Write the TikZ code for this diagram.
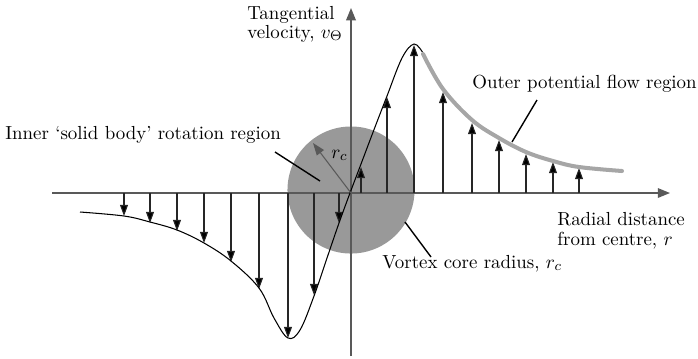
\documentclass[tikz,border=0pt]{standalone}
\usetikzlibrary{arrows.meta}
\begin{document}
\begin{tikzpicture}[x=0.5714pt,y=-0.5714pt,
  axisline/.style={draw=black!65, line width=0.8pt, -{Triangle[length=7pt,width=5.5pt]}},
  vel/.style={draw=black!85, line width=0.6pt, -{Triangle[length=6.3pt,width=4.5pt,fill=black]}},
  pointer/.style={draw=black, line width=0.8pt},
  lbl/.style={inner sep=0pt, anchor=base west, font=\fontsize{10.8}{13}\selectfont},
  corefill/.style={circle, fill=black!40, inner sep=0pt, minimum size=72.6pt}
]
\useasboundingbox (0,0) rectangle (698,358);
% core circle
\node[corefill] (core) at (351,190) {};
% axes
\coordinate (xs) at (52,193);
\coordinate (xe) at (670,193);
\coordinate (ys) at (351,356);
\coordinate (ye) at (351,8);
\draw[axisline] (xs) -- (xe);
\draw[axisline] (ys) -- (ye);
\coordinate (O) at (351,193);
% velocity arrows
\foreach \i/\x/\y in {a/124/216, b/150/223, c/177/231, d/204/243, e/231/262, f/259/289, g/288/338, h/314/295, k/339/223,
                      l/361/167, m/387/97, n/414/45, p/443/92, q/472/123, r/499/140, s/526/154, t/553/162, u/579/168} {
  \coordinate (b\i) at (\x,193);
  \coordinate (t\i) at (\x,\y);
  \draw[vel] (b\i) -- (t\i);
}
% black curve
\draw[black, line width=0.6pt] plot[smooth, tension=0.6] coordinates {
  (80,212) (124,216) (150,222) (177,230) (204,243) (231,261) (259,288) (274,318) (288,338) (300,330) (314,296) (327,258) (339,223) (350,193) (361,164) (375,127) (387,96) (402,58) (414,44) (423,53)};
% grey outer curve
\draw[black!35, line width=2.3pt, line cap=round] plot[smooth, tension=0.6] coordinates {
  (423,54) (443,89) (472,120) (499,138) (526,152) (553,161) (579,167) (622,171)};
% r_c radius arrow
\coordinate (rc) at (313,143);
\draw[draw=black!65, line width=0.6pt, -{Triangle[length=7pt,width=5pt]}] (O) -- (rc);
\node[lbl] (rclab) at (331,158) {$r_c$};
% labels and pointers
\node[lbl] (tang) at (247,19) {Tangential};
\node[lbl] (tang2) at (247,38) {velocity, $v_\Theta$};
\node[lbl] (inner) at (5,139) {Inner `solid body' rotation region};
\coordinate (innerp) at (320,181);
\coordinate (innerq) at (275,152);
\draw[pointer] (innerp) -- (innerq);
\node[lbl] (outer) at (472,88) {Outer potential flow region};
\coordinate (outerp) at (512,142);
\coordinate (outerq) at (537,100);
\draw[pointer] (outerp) -- (outerq);
\node[lbl] (radial) at (557,225) {Radial distance};
\node[lbl] (radial2) at (557,245) {from centre, $r$};
\node[lbl] (vortex) at (382,268) {Vortex core radius, $r_c$};
\coordinate (vp) at (405,222);
\coordinate (vq) at (431,257);
\draw[pointer] (vp) -- (vq);
\end{tikzpicture}
\end{document}
